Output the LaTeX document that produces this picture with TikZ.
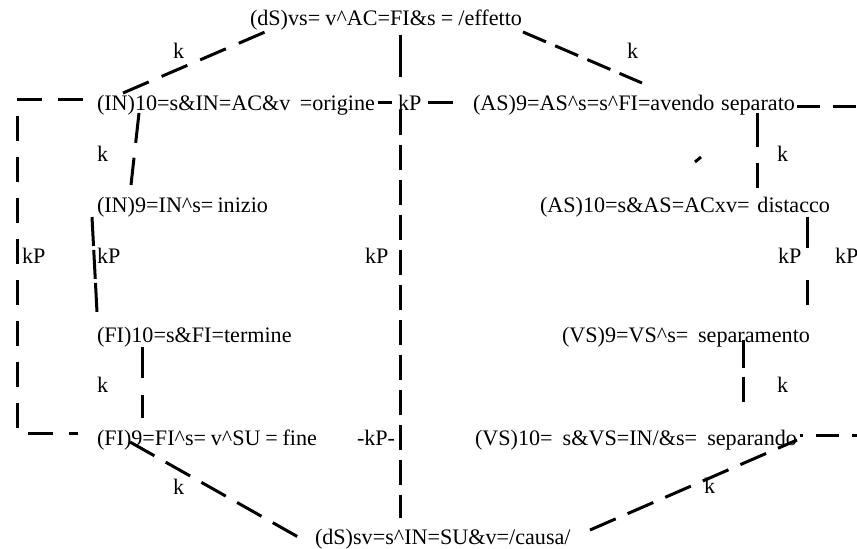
\documentclass[tikz,border=0pt]{standalone}
\usepackage{fontspec}
\setmainfont{Liberation Serif}
\usetikzlibrary{calc}
\tikzset{
  lbl/.style={anchor=base west, inner sep=0pt, outer sep=0pt,
              font=\fontsize{16.6}{19}\selectfont},
  link/.style={line width=2.25pt, dash pattern=on 19.5pt off 9pt},
  bar/.style={line width=2.25pt},
}
\newcommand{\hatc}{\textasciicircum}
% spread a term over a given width (in px of the drawing grid)
\newcommand{\fitw}[2]{\makebox[#1\dimexpr0.75pt\relax][s]{#2}}
\begin{document}
\begin{tikzpicture}[x=0.75pt,y=-0.75pt]
\clip (0,0) rectangle (857,549);

% terms
\node[lbl] (dsT)  at (250,26)  {\fitw{272}{(dS)vs= v\hatc AC=FI\&s = /effetto}};
\node[lbl] (in10) at (97,111)  {\fitw{278}{(IN)10=s\&IN=AC\&v =origine}};
\node[lbl] (kpC)  at (398,111) {kP};
\node[lbl] (as9)  at (473,111) {\fitw{322}{(AS)9=AS\hatc s=s\hatc FI=avendo separato}};
\node[lbl] (in9)  at (97,213)  {\fitw{171}{(IN)9=IN\hatc s= inizio}};
\node[lbl] (as10) at (540,213) {\fitw{290}{(AS)10=s\&AS=ACxv= distacco}};
\node[lbl] (fi10) at (97,342)  {(FI)10=s\&FI=termine};
\node[lbl] (vs9)  at (562,342) {\fitw{248}{(VS)9=VS\hatc s= separamento}};
\node[lbl] (fi9)  at (97,445)  {\fitw{220}{(FI)9=FI\hatc s= v\hatc SU = fine}};
\node[lbl] (kpM)  at (357,445) {-kP-};
\node[lbl] (vs10) at (475,445) {\fitw{322}{(VS)10= s\&VS=IN/\&s= separando}};
\node[lbl] (dsB)  at (315,544) {(dS)sv=s\hatc IN=SU\&v=/causa/};

% relation labels
\node[lbl] (kA) at (173,59)  {k};
\node[lbl] (kB) at (627,59)  {k};
\node[lbl] (kC) at (97,162)  {k};
\node[lbl] (kD) at (777,162) {k};
\node[lbl] (kE) at (97,392)  {k};
\node[lbl] (kF) at (777,392) {k};
\node[lbl] (kG) at (173,494) {k};
\node[lbl] (kH) at (704,493) {k};
\node[lbl] (kpL) at (22,263)  {kP};
\node[lbl] (kpI) at (97,263)  {kP};
\node[lbl] (kpV) at (365,263) {kP};
\node[lbl] (kpR) at (778,263) {kP};
\node[lbl] (kpX) at (835,263) {kP};

% diagonals to the two (dS) terms
\draw[link, dash pattern=on 21pt off 10.5pt]
  ($(in10.base west)+(26,-18)$) -- ($(dsT.base west)+(15,6)$);
\draw[link, dash pattern=on 18.75pt off 7.5pt]
  ($(dsT.base west)+(273,6)$) -- ($(as9.base west)+(169,-28)$);
\draw[link, dash pattern=on 21pt off 9.75pt]
  ($(fi9.base west)+(33,-3)$) -- ($(dsB.base west)+(-8,-2)$);
\draw[link, dash pattern=on 21pt off 9.75pt]
  ($(dsB.base west)+(275,-14)$) -- ($(vs10.base west)+(322,-5)$);

% central axis through kP
\draw[bar]  ($(dsT.base west)+(150,9)$) -- ($(kpC.base west)+(2,-34)$);
\draw[link, dash pattern=on 18.75pt off 7.5pt]
  ($(kpC.base west)+(2,-1)$) -- ($(dsB.base west)+(85,-26)$);
\draw[bar]  ($(in10.base west)+(281,-8)$) -- ($(kpC.base west)+(-6,-8)$);
\draw[bar]  ($(kpC.base west)+(30,-8)$) -- ($(as9.base west)+(-20,-8)$);

% left column
\draw[link, dash pattern=on 22.5pt off 11.25pt]
  ($(in10.base west)+(42,2)$) -- ($(in9.base west)+(34,-28)$);
\draw[link, dash pattern=on 21.75pt off 3pt]
  ($(in9.base west)+(-5,4)$) -- ($(fi10.base west)+(0,-30)$);
\draw[link, dash pattern=on 23.25pt off 12.75pt]
  ($(fi10.base west)+(45,5)$) -- ($(fi9.base west)+(45,-27)$);
\draw[link, dash pattern=on 18.75pt off 12pt]
  ($(in10.base west)+(-14,-11)$) -- ++(-66,0) |- ($(fi9.base west)+(-19,-12)$);

% right column
\draw[link, dash pattern=on 25.5pt off 12pt]
  ($(as9.base west)+(284,2)$) -- ($(as10.base west)+(217,-25)$);
\draw[link, dash pattern=on 23.25pt off 24pt]
  ($(as10.base west)+(267,4)$) -- ($(vs9.base west)+(245,-37)$);
\draw[link, dash pattern=on 21pt off 6.75pt]
  ($(vs9.base west)+(181,-2)$) -- ($(vs10.base west)+(268,-43)$);
\draw[link, dash pattern=on 17.25pt off 9.75pt]
  ($(as9.base west)+(324,-4)$) -- ++(73,0) |- ($(vs10.base west)+(325,-10)$);

% small tick
\draw[bar] ($(as10.base west)+(155,-51)$) -- ++(6,-5);
\end{tikzpicture}
\end{document}
